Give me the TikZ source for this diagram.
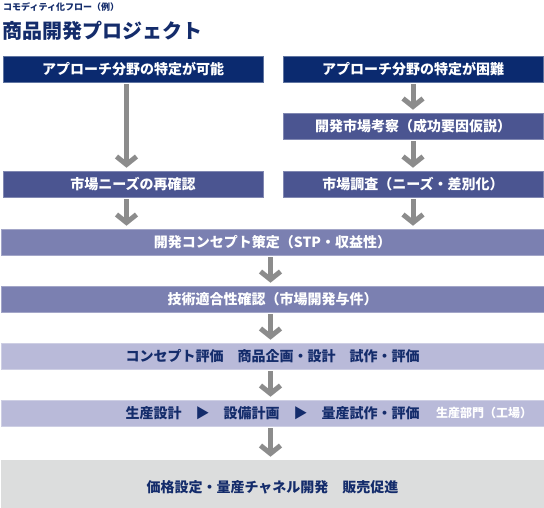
\documentclass[tikz,border=0pt]{standalone}
\usepackage{fontspec}
\setmainfont{Noto Sans CJK JP}
\usetikzlibrary{arrows.meta}

\definecolor{navyA}{HTML}{0B2A6F}
\definecolor{blueB}{HTML}{4B5591}
\definecolor{blueC}{HTML}{7B80B1}
\definecolor{lilacD}{HTML}{B9BAD9}
\definecolor{grayE}{HTML}{DCDDDD}
\definecolor{inkblue}{HTML}{142C6B}
\definecolor{arrowgray}{HTML}{8C8C8C}

\tikzstyle{box} = [rectangle,
    inner sep=0pt,
    line width=0.6pt,
    minimum height=26pt,
    font=\bfseries\fontsize{14pt}{16pt}\selectfont]
\tikzstyle{halfbox} = [box, minimum width=260pt]
\tikzstyle{fullbox} = [box, minimum width=543pt]
\tikzstyle{navybox} = [fill=navyA, draw=navyA!65!white, text=white]
\tikzstyle{midbox} = [fill=blueB, draw=blueB!70!white, text=white]
\tikzstyle{palebox} = [fill=blueC, draw=blueC!70!white, text=white]
\tikzstyle{lilacbox} = [fill=lilacD, draw=lilacD!70!white, text=inkblue]
\tikzstyle{graybox} = [fill=grayE, draw=grayE, text=inkblue]
\tikzstyle{flow} = [draw=arrowgray,
    line width=5pt,
    -{Straight Barb[length=8pt,width=20pt]},
    shorten <=2pt,
    shorten >=3pt]

\begin{document}
\begin{tikzpicture}[x=1pt,y=-1pt]
            \useasboundingbox (0,0) rectangle (544,507);
            \node (subtitle) [anchor=west, inner sep=0pt, text=inkblue,
                font=\bfseries\fontsize{9pt}{10pt}\selectfont] at (3,7) {コモディティ化フロー（例）};
            \node (title) [anchor=west, inner sep=0pt, text=inkblue,
                font=\bfseries\fontsize{20pt}{22pt}\selectfont] at (2,31) {商品開発プロジェクト};

            \node (easyA) [halfbox, navybox] at (133,69) {アプローチ分野の特定が可能};
            \node (hardA) [halfbox, navybox] at (413,69) {アプローチ分野の特定が困難};
            \node (hardB) [halfbox, midbox] at (413,126) {開発市場考察（成功要因仮説）};
            \node (needsC) [halfbox, midbox] at (133,184) {市場ニーズの再確認};
            \node (researchC) [halfbox, midbox] at (413,184) {市場調査（ニーズ・差別化）};
            \node (concept) [fullbox, palebox] at (272.5,242) {開発コンセプト策定（STP・収益性）};
            \node (techfit) [fullbox, palebox] at (272.5,299) {技術適合性確認（市場開発与件）};
            \node (evaluate) [fullbox, lilacbox] at (272.5,356) {コンセプト評価　商品企画・設計　試作・評価};
            \node (produce) [fullbox, lilacbox] at (272.5,413) {生産設計　▶　設備計画　▶　量産試作・評価};
            \node (factory) [anchor=west, inner sep=0pt, text=white,
                font=\bfseries\fontsize{12pt}{13pt}\selectfont] at (436,413) {生産部門（工場）};
            \node (market) [fullbox, graybox, minimum height=47pt,
                text height=20pt, text depth=2pt] at (272.5,483.5) {価格設定・量産チャネル開発　販売促進};

            \draw [flow] ([xshift=-6.5pt]easyA.south) -- ([xshift=-6.5pt]needsC.north);
            \draw [flow] (hardA.south) -- (hardB.north);
            \draw [flow] (hardB.south) -- (researchC.north);
            \draw [flow] ([xshift=-6.5pt]needsC.south) -- ([xshift=-6.5pt]needsC.south |- concept.north);
            \draw [flow] (researchC.south) -- (researchC.south |- concept.north);
            \draw [flow] ([xshift=-2pt]concept.south) -- ([xshift=-2pt]techfit.north);
            \draw [flow] ([xshift=-2pt]techfit.south) -- ([xshift=-2pt]evaluate.north);
            \draw [flow] ([xshift=-2pt]evaluate.south) -- ([xshift=-2pt]produce.north);
            \draw [flow] ([xshift=-2pt]produce.south) -- ([xshift=-2pt]market.north);
        \end{tikzpicture}
\end{document}
